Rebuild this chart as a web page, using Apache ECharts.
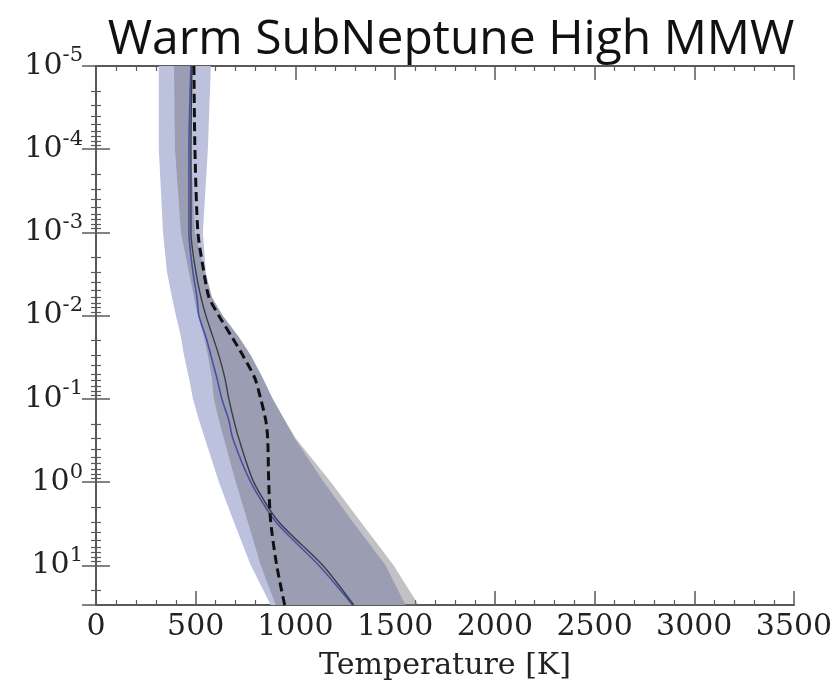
<!DOCTYPE html>
<html>
<head>
<meta charset="utf-8">
<script src="https://cdn.jsdelivr.net/npm/echarts@6/dist/echarts.min.js"></script>
<style>
html, body { margin: 0; padding: 0; background: #fff; }
#main { width: 840px; height: 684px; }
</style>
</head>
<body>
<div id="main"></div>
<script>
// pressure levels [bar] shared by all profiles
var pressure = [1e-5, 1e-4, 1e-3, 3e-3, 6e-3, 1e-2, 1.8e-2, 3e-2, 5.6e-2, 0.1, 0.18, 0.3, 1, 3, 10, 30];

// temperature profiles [K]
var blueBandLow  = [315, 315, 336, 356, 381, 401, 426, 441, 466, 486, 516, 546, 616, 691, 776, 876];
var blueBandHigh = [576, 561, 536, 551, 581, 636, 716, 776, 836, 886, 946, 997, 1142, 1287, 1452, 1552];
var grayBandLow  = [391, 396, 426, 466, 491, 511, 541, 561, 581, 591, 616, 641, 701, 761, 826, 901];
var grayBandHigh = [476, 476, 496, 546, 581, 636, 716, 776, 836, 886, 946, 1002, 1177, 1327, 1492, 1617];
var blueLine  = [476, 466, 466, 486, 506, 516, 551, 576, 606, 631, 666, 686, 776, 901, 1117, 1287];
var grayLine  = [481, 476, 476, 501, 526, 551, 586, 616, 646, 666, 691, 716, 791, 916, 1137, 1292];
var dashLine  = [491, 496, 511, 541, 566, 616, 681, 736, 796, 826, 851, 861, 866, 876, 906, 946];

var xTicks = [0, 500, 1000, 1500, 2000, 2500, 3000, 3500];

function pairs(temps) {
	var out = [];
	for (var i = 0; i < pressure.length; i++) {
		out.push([temps[i], pressure[i]]);
	}
	return out;
}

function band(name, low, high, color) {
	return {
		name: name,
		type: 'custom',
		silent: true,
		data: [[low[0], pressure[0]]],
		renderItem: function (params, api) {
			var pts = [];
			for (var i = 0; i < pressure.length; i++) {
				pts.push(api.coord([low[i], pressure[i]]));
			}
			for (var j = pressure.length - 1; j >= 0; j--) {
				pts.push(api.coord([high[j], pressure[j]]));
			}
			return {
				type: 'polygon',
				shape: { points: pts },
				style: { fill: color }
			};
		}
	};
}

var serif = 'DejaVu Serif';
var frame = '#5a5a5a';

var tickLabel = {
	fontFamily: serif,
	fontSize: 30,
	color: '#222'
};

var myChart = echarts.init(document.getElementById('main'));
myChart.setOption({
	animation: false,
	title: {
		text: 'Warm SubNeptune High MMW',
		left: 446,
		top: 11,
		textAlign: 'center',
		textStyle: {
			fontFamily: 'Open Sans',
			fontWeight: 'normal',
			fontSize: 48,
			color: '#111'
		}
	},
	grid: {
		left: 96,
		right: 46,
		top: 66,
		bottom: 79,
		outerBoundsMode: 'none',
		containLabel: false
	},
	xAxis: [{
		type: 'value',
		min: 0,
		max: 3500,
		interval: 500,
		name: 'Temperature [K]',
		nameLocation: 'middle',
		nameGap: 46,
		nameTextStyle: { fontFamily: serif, fontSize: 30, color: '#222' },
		axisLine: { show: true, lineStyle: { color: frame, width: 2 } },
		axisTick: { inside: true, length: 14, lineStyle: { color: frame, width: 1.5 } },
		minorTick: { show: true, splitNumber: 5, length: 5, lineStyle: { color: frame, width: 1.2 } },
		axisLabel: Object.assign({ margin: 7, formatter: function (v) { return xTicks.indexOf(v) >= 0 ? String(v) : ''; } }, tickLabel),
		splitLine: { show: false }
	}, {
		type: 'value',
		position: 'top',
		min: 0,
		max: 3500,
		interval: 500,
		axisLine: { show: true, lineStyle: { color: frame, width: 2 } },
		axisTick: { inside: true, length: 14, lineStyle: { color: frame, width: 1.5 } },
		minorTick: { show: true, splitNumber: 5, length: 5, lineStyle: { color: frame, width: 1.2 } },
		axisLabel: { show: false },
		splitLine: { show: false }
	}],
	yAxis: [{
		type: 'log',
		logBase: 10,
		min: 1e-5,
		max: 30,
		inverse: true,
		axisLine: { show: true, lineStyle: { color: frame, width: 2 } },
		axisTick: { inside: true, length: 14, lineStyle: { color: frame, width: 1.5 } },
		minorTick: { show: true, splitNumber: 9, length: 5, lineStyle: { color: frame, width: 1.2 } },
		axisLabel: Object.assign({
			margin: 13,
			showMaxLabel: false,
			formatter: function (v) {
				var e = Math.round(Math.log10(v));
				return '10{s|' + e + '}';
			},
			rich: {
				s: { fontFamily: serif, fontSize: 21, color: '#222', padding: [0, 0, 20, 0] }
			}
		}, tickLabel),
		splitLine: { show: false }
	}, {
		type: 'log',
		logBase: 10,
		min: 1e-5,
		max: 30,
		inverse: true,
		position: 'right',
		axisLine: { show: true, lineStyle: { color: frame, width: 2 } },
		axisTick: { inside: true, length: 14, lineStyle: { color: frame, width: 1.5 } },
		minorTick: { show: true, splitNumber: 9, length: 5, lineStyle: { color: frame, width: 1.2 } },
		axisLabel: { show: false },
		splitLine: { show: false }
	}],
	series: [
		band('blue band', blueBandLow, blueBandHigh, 'rgb(188,194,222)'),
		band('gray band', grayBandLow, grayBandHigh, 'rgba(112,112,122,0.43)'),
		{
			name: 'blue',
			type: 'line',
			data: pairs(blueLine),
			smooth: 0.25,
			showSymbol: false,
			lineStyle: { color: '#4452a6', width: 1.6 }
		},
		{
			name: 'gray',
			type: 'line',
			data: pairs(grayLine),
			smooth: 0.25,
			showSymbol: false,
			lineStyle: { color: '#3c3c44', width: 1.4 }
		},
		{
			name: 'dashed',
			type: 'line',
			data: pairs(dashLine),
			smooth: 0.25,
			showSymbol: false,
			lineStyle: { color: '#111', width: 3, type: [9, 5] }
		}
	]
});
</script>
</body>
</html>
